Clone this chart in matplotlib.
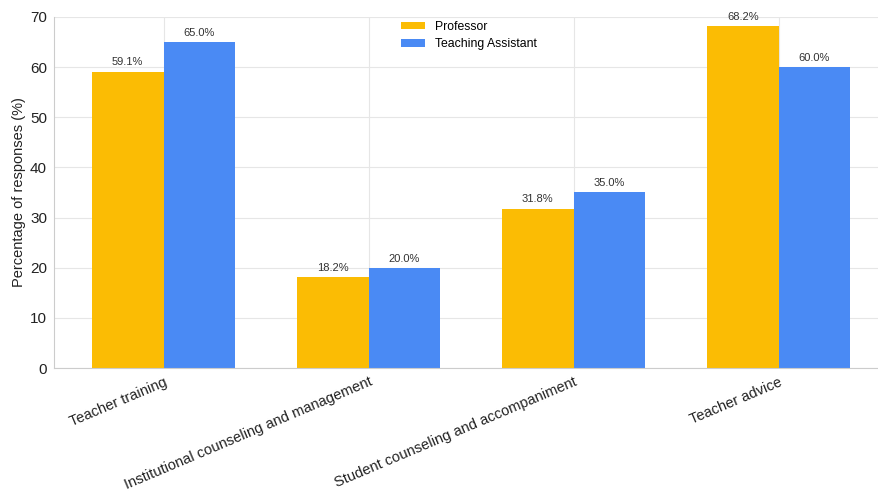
import matplotlib
matplotlib.use("Agg")
import matplotlib.pyplot as plt
import numpy as np

plt.rcParams["font.family"] = ["Liberation Sans", "DejaVu Sans"]

# Survey categories and response shares
categories = [
    "Teacher training",
    "Institutional counseling and management",
    "Student counseling and accompaniment",
    "Teacher advice",
]
professor = [59.1, 18.2, 31.8, 68.2]
assistant = [65.0, 20.0, 35.0, 60.0]

YELLOW = "#FBBC04"
BLUE = "#4A8AF4"

fig = plt.figure(figsize=(8.79, 4.98), dpi=100)
ax = fig.add_axes([0.0614, 0.261, 0.9386, 0.705])

x = np.arange(len(categories))
width = 0.35
b1 = ax.bar(x - width / 2, professor, width, color=YELLOW, label="Professor", zorder=2)
b2 = ax.bar(x + width / 2, assistant, width, color=BLUE, label="Teaching Assistant", zorder=2)

# value labels above the bars
for bars, vals in ((b1, professor), (b2, assistant)):
    for rect, v in zip(bars, vals):
        ax.annotate(f"{v:.1f}%", (rect.get_x() + rect.get_width() / 2, v),
                    xytext=(0, 3), textcoords="offset points",
                    ha="center", va="bottom", fontsize=8, color="#333333")

ax.set_ylim(0, 70)
ax.set_xlim(-0.535, 3.49)
ax.set_yticks(range(0, 71, 10))
ax.set_xticks(x)
ax.set_xticklabels(categories, rotation=23, ha="right", rotation_mode="anchor",
                   fontsize=10.5, color="#222222")
ax.tick_params(axis="y", labelsize=11, length=0, pad=5, labelcolor="#222222")
ax.tick_params(axis="x", length=0, pad=5)
ax.set_ylabel("Percentage of responses (%)", fontsize=10.5, color="#222222", labelpad=3)

ax.grid(True, color="#e6e6e6", linewidth=0.8, zorder=0)
ax.set_axisbelow(True)
for side in ("top", "right"):
    ax.spines[side].set_visible(False)
for side in ("left", "bottom"):
    ax.spines[side].set_color("#cccccc")

ax.legend(loc="upper center", frameon=False, fontsize=8.8, handlelength=2.0,
          handleheight=0.6, bbox_to_anchor=(0.503, 1.02), labelspacing=0.45)

fig.savefig("out.png", dpi=100)
